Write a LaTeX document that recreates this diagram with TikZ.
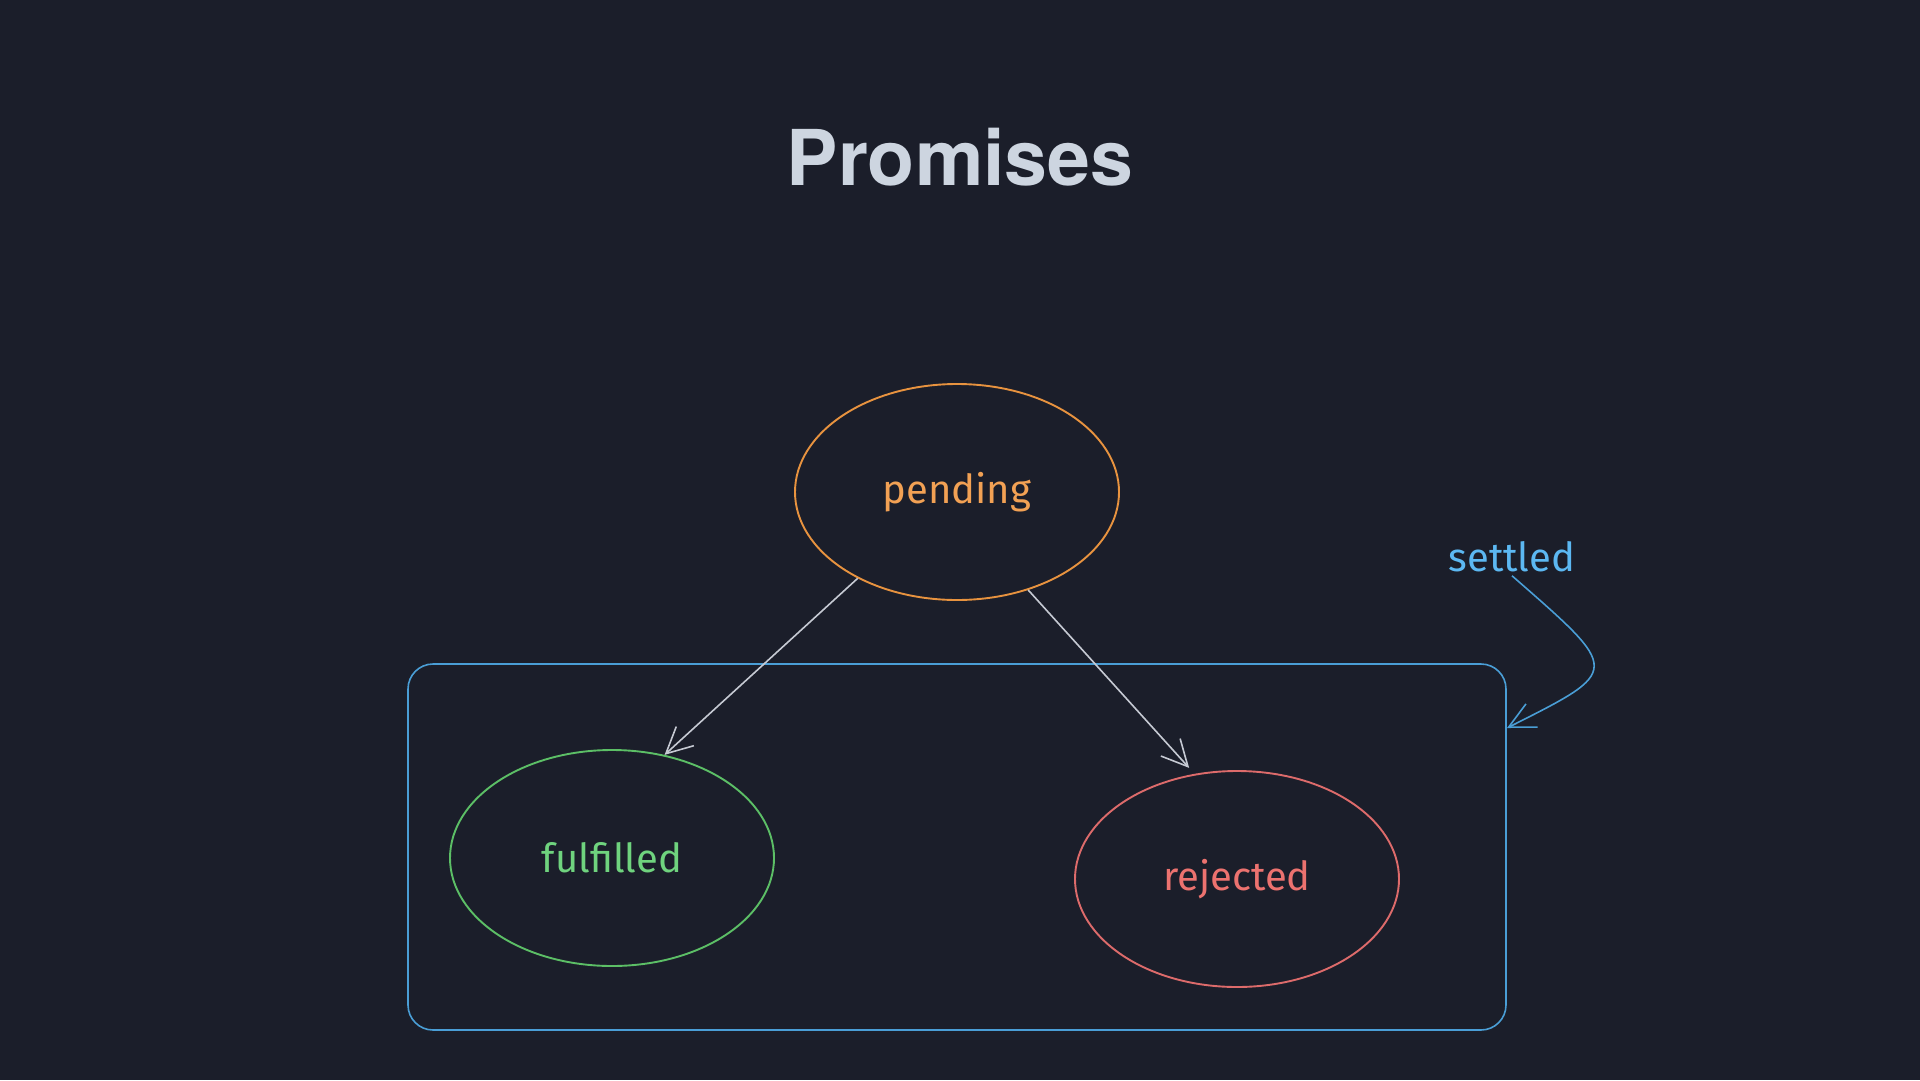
\documentclass[tikz,border=0pt]{standalone}
\usepackage{fontspec}
\setmainfont{Fira Sans}
\newfontfamily\titlefont{TeX Gyre Heros}
\usetikzlibrary{shapes.geometric,arrows.meta}
\definecolor{bgdark}{HTML}{1B1E2A}
\definecolor{titlegray}{HTML}{CDD5E0}
\definecolor{pendorange}{HTML}{E8933F}
\definecolor{pendtext}{HTML}{F2A154}
\definecolor{fulgreen}{HTML}{5CBF66}
\definecolor{fultext}{HTML}{6FD37E}
\definecolor{rejred}{HTML}{DD6B6B}
\definecolor{rejtext}{HTML}{EC726F}
\definecolor{setblue}{HTML}{4A9ED6}
\definecolor{settext}{HTML}{5CB8F2}
\definecolor{arrowgray}{HTML}{C6CAD3}

\begin{document}
\begin{tikzpicture}[x=1pt,y=-1pt,
        state/.style={ellipse,draw,line width=1.9pt,minimum width=324pt,minimum height=216pt,
            font=\fontsize{40}{44}\selectfont},
        flow/.style={arrowgray,line width=1.6pt,-{Straight Barb[length=26pt,width=26pt]}}]
            \fill[bgdark] (0,0) rectangle (1920,1080);
            \useasboundingbox (0,0) rectangle (1920,1080);
            \node[titlegray,inner sep=0] (title) at (960,157)
                {\titlefont\bfseries\fontsize{77}{80}\selectfont Promises};
            \node[state,draw=pendorange,text=pendtext] (pending) at (957,492) {pending};
            \node[state,draw=fulgreen,text=fultext] (fulfilled) at (612,858) {fulfilled};
            \node[state,draw=rejred,text=rejtext] (rejected) at (1237,879) {rejected};
            \node[draw=setblue,line width=1.6pt,rounded corners=25pt,minimum width=1098pt,
                minimum height=366pt] (settledbox) at (957,847) {};
            \node[settext,font=\fontsize{40}{44}\selectfont] (settled) at (1512,557) {settled};
            \coordinate (hook) at (1507,728);
            \draw[flow] (pending.221) -- (fulfilled.63);
            \draw[flow,shorten >=8pt] (pending.306) -- (rejected.112);
            \draw[flow,setblue] (settled.south) .. controls (1622,672) and (1622,670) .. (hook);
        \end{tikzpicture}
\end{document}
